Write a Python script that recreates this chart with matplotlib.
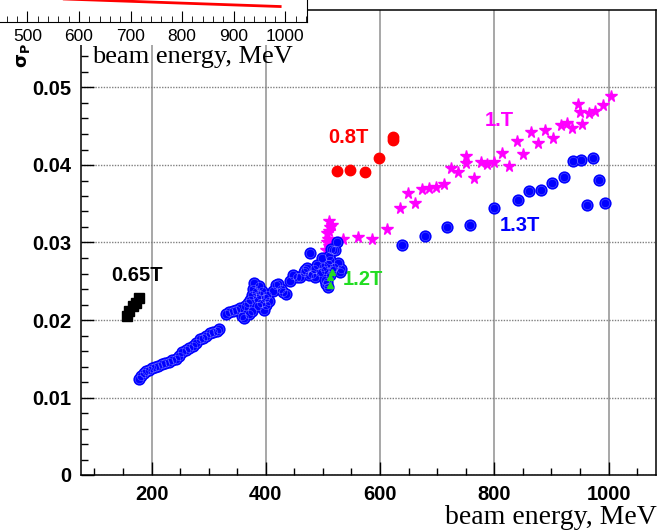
import matplotlib
matplotlib.use("Agg")
import matplotlib.pyplot as plt
from matplotlib.patches import Rectangle
from matplotlib.ticker import MultipleLocator, FuncFormatter
import numpy as np

# ---- data (beam energy MeV, sigma_P) ----
e_065 = [157, 160, 168, 172, 178]
s_065 = [0.0205, 0.0212, 0.0218, 0.0222, 0.0228]

e_08 = [525, 548, 574, 598, 623, 623]
s_08 = [0.0392, 0.0393, 0.0391, 0.0409, 0.0436, 0.0432]

e_10 = [505, 507, 508, 510, 510, 512, 511, 515, 507, 536, 562, 586, 612, 635, 649, 661, 674,
        686, 698, 712, 724, 737, 751, 751, 764, 777, 788, 800, 813, 826, 839, 851,
        864, 876, 889, 902, 916, 928, 936, 947, 950, 953, 965, 977, 990, 1004]
s_10 = [0.0290, 0.0300, 0.0305, 0.0315, 0.0295, 0.0320, 0.0328, 0.0322, 0.0312, 0.0305, 0.0307,
        0.0305, 0.0318, 0.0345, 0.0364, 0.0351, 0.0369, 0.0370, 0.0371, 0.0376,
        0.0396, 0.0391, 0.0412, 0.0402, 0.0383, 0.0404, 0.0401, 0.0404, 0.0416,
        0.0399, 0.0431, 0.0414, 0.0443, 0.0429, 0.0445, 0.0435, 0.0451, 0.0454,
        0.0448, 0.0479, 0.0468, 0.0453, 0.0467, 0.0470, 0.0478, 0.0489]

e_12 = [512, 513, 515]
s_12 = [0.0245, 0.0255, 0.0262]

e_13 = [178, 182, 186, 190, 195, 200, 206, 212, 218, 224, 230, 236, 242, 248, 254,
        260, 266, 272, 278, 284, 290, 296, 302, 308, 314, 318,
        330, 336, 342, 348, 354, 358, 362, 364, 368, 370, 372, 375, 376, 378, 380,
        382, 384, 386, 388, 390, 392, 394, 396, 398, 400, 402, 405,
        412, 418, 422, 426, 430, 436, 442, 448, 454, 460, 466, 469, 472, 476, 477,
        480, 484, 486, 489, 494, 498, 500, 503, 504, 506, 507, 508, 510, 512, 514,
        516, 518, 520, 521, 524, 527, 530, 532, 509, 512,
        638, 679, 718, 758, 800, 841, 861, 882, 901, 922, 938, 951, 973, 983, 962, 993]
s_13 = [0.0124, 0.0128, 0.0132, 0.0134, 0.0136, 0.0138, 0.0139, 0.0141, 0.0143, 0.0145,
        0.0146, 0.0148, 0.0150, 0.0154, 0.0159, 0.0161, 0.0164, 0.0166, 0.0170,
        0.0175, 0.0177, 0.0180, 0.0183, 0.0184, 0.0186, 0.0188,
        0.0208, 0.0210, 0.0211, 0.0213, 0.0215, 0.0205, 0.0203, 0.0218, 0.0222,
        0.0208, 0.0226, 0.0232, 0.0212, 0.0240, 0.0248, 0.0236, 0.0228, 0.0218,
        0.0244, 0.0232, 0.0222, 0.0238, 0.0213, 0.0228, 0.0220, 0.0232, 0.0224,
        0.0238, 0.0245, 0.0246, 0.0240, 0.0236, 0.0233, 0.0250, 0.0258, 0.0256,
        0.0256, 0.0262, 0.0264, 0.0267, 0.0258, 0.0286, 0.0260, 0.0266, 0.0256,
        0.0271, 0.0262, 0.0280, 0.0269, 0.0264, 0.0252, 0.0246, 0.0249, 0.0272,
        0.0283, 0.0277, 0.0291, 0.0264, 0.0290, 0.0268, 0.0290, 0.0300, 0.0273,
        0.0262, 0.0266, 0.0243, 0.0258,
        0.0297, 0.0309, 0.0320, 0.0323, 0.0345, 0.0355, 0.0366, 0.0368, 0.0377,
        0.0384, 0.0405, 0.0406, 0.0409, 0.0381, 0.0348, 0.0351]

# inset curve (arbitrary units of the inset pad)
e_ins = [500, 628, 800, 990]
v_ins = [0.229, 0.2075, 0.178, 0.146]

xticks = [200, 400, 600, 800, 1000]
yticks = [0, 0.01, 0.02, 0.03, 0.04, 0.05]

W, H = 666, 531
fig = plt.figure(figsize=(W / 100, H / 100), dpi=100)
ax = fig.add_axes((80.7 / W, 1 - 475 / H, (656 - 80.7) / W, (475 - 10) / H))

ax.plot(e_065, s_065, 's', color='black', ms=6.5, zorder=3)
ax.plot(e_08, s_08, 'o', color='red', ms=7.5, zorder=3)
ax.plot(e_10, s_10, '*', color='#ff00ff', ms=8.5, zorder=3)
ax.plot(e_13, s_13, 'o', color='#0000ff', ms=7.8, zorder=4)
ax.plot(e_13, s_13, 'o', mfc='none', mec='white', mew=0.4, ms=6, alpha=0.35, zorder=4)
ax.plot(e_12, s_12, '^', color='#22dd22', ms=4, zorder=5)

bold = dict(family='Liberation Sans', weight='bold', size=14.5)
ax.text(130, 0.0258, '0.65T', color='black', va='center', **bold)
ax.text(510, 0.0435, '0.8T', color='red', va='center', **bold)
ax.text(784, 0.0457, '1.T', color='#ff00ff', va='center', **bold)
ax.text(810, 0.0322, '1.3T', color='#0000ff', va='center', **bold)
ax.text(535, 0.0252, '1.2T', color='#22dd22', va='center', **bold)

ax.set_xlim(76, 1083)
ax.set_ylim(0, 0.06)
ax.set_xticks(xticks)
ax.set_yticks(yticks)
ax.xaxis.set_minor_locator(MultipleLocator(50))
ax.yaxis.set_minor_locator(MultipleLocator(0.002))
ax.yaxis.set_major_formatter(FuncFormatter(lambda v, p: '0' if v == 0 else '%g' % v))
ax.tick_params(which='both', direction='in', top=False, right=False)
ax.tick_params(which='major', length=9.5, width=1)
ax.tick_params(which='minor', length=5, width=1)
ax.tick_params(axis='x', pad=7)
ax.tick_params(axis='y', pad=7)
for lab in ax.get_xticklabels() + ax.get_yticklabels():
    lab.set_fontfamily('Liberation Sans')
    lab.set_fontweight('bold')
    lab.set_fontsize(14.5)
ax.xaxis.grid(True, color='#a0a0a0', lw=1.3, ls='-')
ax.yaxis.grid(True, color='#808080', lw=1.0, ls=(0, (1, 1)))
ax.set_axisbelow(True)
for sp in ax.spines.values():
    sp.set_linewidth(1.1)

fig.text(657 / W, 0.014, 'beam energy, MeV', ha='right', va='baseline',
         family='Liberation Serif', size=20)
fig.text(23 / W, 1 - 56 / H, r'$\mathbf{\sigma_{P}}$', rotation=90, ha='center',
         va='center', size=13)

# inset pad at the top left, partly outside the canvas
fig.add_artist(Rectangle((0, 1 - 45 / H), 307 / W, 45 / H, transform=fig.transFigure,
                         facecolor='white', edgecolor='none', zorder=1))
ins = fig.add_axes((0, 1 - 22 / H, 307 / W, 106 / H))
ins.set_zorder(2)
ins.plot(e_ins, v_ins, color='red', lw=2)
ins.set_xlim(447, 1042)
ins.set_ylim(0, 1)
ins.set_xticks([500, 600, 700, 800, 900, 1000])
ins.xaxis.set_minor_locator(MultipleLocator(20))
ins.set_yticks([])
ins.tick_params(which='both', direction='in', top=False)
ins.tick_params(which='major', length=8, pad=5)
ins.tick_params(which='minor', length=4)
for lab in ins.get_xticklabels():
    lab.set_fontfamily('Liberation Sans')
    lab.set_fontsize(12.5)
ins.spines['left'].set_visible(False)
fig.text(293 / W, 1 - 63 / H, 'beam energy, MeV', ha='right', va='baseline',
         family='Liberation Serif', size=19, zorder=3)

fig.savefig('out.png', dpi=100)
